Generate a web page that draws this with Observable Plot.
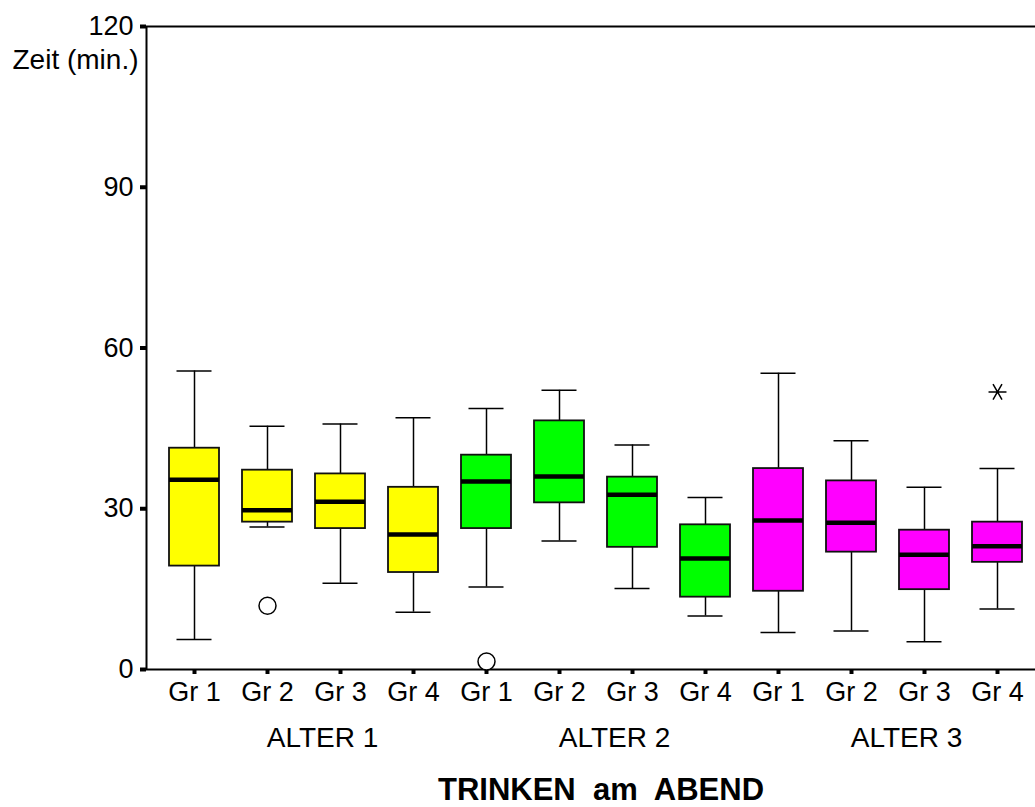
<!DOCTYPE html>
<html>
<head>
<meta charset="utf-8">
<script src="https://cdn.jsdelivr.net/npm/d3@7"></script>
<script src="https://cdn.jsdelivr.net/npm/@observablehq/plot@0.6"></script>
<style>
  html, body { margin: 0; padding: 0; background: white; overflow: hidden; }
  #chart { width: 1035px; height: 807px; overflow: hidden; }
  #chart svg text { white-space: pre; }
</style>
</head>
<body>
<div id="chart"></div>
<script>
// ---- data ----
const ages = ["ALTER 1", "ALTER 2", "ALTER 3"];
const groups = ["Gr 1", "Gr 2", "Gr 3", "Gr 4"];
const ageColors = ["#ffff00", "#00ff00", "#ff00ff"];
// per box, ordered ALTER1 Gr1..Gr4, ALTER2 Gr1..Gr4, ALTER3 Gr1..Gr4
const whiskerLow  = [5.6, 26.6, 16.1, 10.7, 15.4, 24.0, 15.1, 10.0, 6.9, 7.2, 5.2, 11.3];
const quartile1   = [19.3, 27.5, 26.3, 18.1, 26.3, 31.1, 22.8, 13.5, 14.6, 21.9, 14.9, 20.0];
const medians     = [35.4, 29.7, 31.3, 25.2, 35.1, 36.0, 32.6, 20.7, 27.8, 27.4, 21.4, 23.0];
const quartile3   = [41.3, 37.2, 36.5, 34.0, 40.0, 46.4, 35.9, 27.0, 37.5, 35.2, 26.0, 27.5];
const whiskerHigh = [55.7, 45.4, 45.8, 47.0, 48.7, 52.1, 41.9, 32.1, 55.3, 42.7, 34.0, 37.5];
// outliers (circles) and extremes (asterisks): [age index, group index, value]
const outlierAge = [0, 1];
const outlierGroup = [1, 0];
const outlierValue = [11.9, 1.5];
const extremeAge = [2];
const extremeGroup = [3];
const extremeValue = [51.8];
const yTicks = [0, 30, 60, 90, 120];
const yLabel = "Zeit (min.)";
const xTitle = "TRINKEN  am  ABEND";

// ---- build table ----
const key = (a, g) => ages[a] + "|" + groups[g];
const boxes = [];
ages.forEach((a, ai) => groups.forEach((g, gi) => {
  const i = ai * groups.length + gi;
  boxes.push({key: key(ai, gi), age: a, color: ageColors[ai],
    lo: whiskerLow[i], q1: quartile1[i], med: medians[i], q3: quartile3[i], hi: whiskerHigh[i]});
}));
const xDomain = boxes.map(d => d.key);
const outliers = outlierAge.map((a, i) => ({key: key(a, outlierGroup[i]), v: outlierValue[i]}));
const extremes = extremeAge.map((a, i) => ({key: key(a, extremeGroup[i]), v: extremeValue[i]}));
const ageLabels = ages.map((a, ai) => ({key: key(ai, 1), label: a}));

const font = "Liberation Sans, Arial, Helvetica, sans-serif";

const chart = Plot.plot({
  width: 1060,
  height: 807,
  marginLeft: 146,
  marginRight: 15,
  marginTop: 26,
  marginBottom: 138,
  style: {fontFamily: font, color: "black", background: "white", maxWidth: "none", overflow: "visible"},
  x: {type: "band", domain: xDomain, paddingInner: 0.317, paddingOuter: 0.296, axis: null},
  y: {domain: [0, 120], axis: null},
  marks: [
    Plot.frame({stroke: "black", strokeWidth: 2}),
    Plot.axisY({ticks: yTicks, tickSize: 6, tickPadding: 7, fontSize: 27, strokeWidth: 4, stroke: "black", label: null}),
    Plot.axisX({tickSize: 5, tickPadding: 7, fontSize: 27, strokeWidth: 4, stroke: "black",
      tickFormat: d => d.split("|")[1], label: null}),
    Plot.text([yLabel], {frameAnchor: "top-left", dx: -8, dy: 23, textAnchor: "end", lineAnchor: "top", fontSize: 28, fill: "black"}),
    Plot.text(ageLabels, {x: "key", text: "label", frameAnchor: "bottom", dx: 55, dy: 58, lineAnchor: "top", fontSize: 28, fill: "black"}),
    Plot.text([xTitle], {frameAnchor: "bottom", dx: 5, dy: 108, lineAnchor: "top", fontSize: 31, fontWeight: "bold", fill: "black", ariaLabel: "title"}),
    // whiskers
    Plot.ruleX(boxes, {x: "key", y1: "lo", y2: "hi", stroke: "black", strokeWidth: 1.5}),
    Plot.tickY(boxes, {x: "key", y: "hi", insetLeft: 7.5, insetRight: 7.5, stroke: "black", strokeWidth: 1.5}),
    Plot.tickY(boxes, {x: "key", y: "lo", insetLeft: 7.5, insetRight: 7.5, stroke: "black", strokeWidth: 1.5}),
    // boxes
    Plot.barY(boxes, {x: "key", y1: "q1", y2: "q3", fill: "color", stroke: "#111", strokeWidth: 1.8}),
    // medians
    Plot.tickY(boxes, {x: "key", y: "med", stroke: "black", strokeWidth: 4.5}),
    // outliers
    Plot.dot(outliers, {x: "key", y: "v", r: 8.5, stroke: "black", fill: "white", strokeWidth: 1.5}),
    Plot.dot(extremes, {x: "key", y: "v", symbol: "asterisk", r: 8.5, rotate: 90, stroke: "black", strokeWidth: 1.5})
  ]
});
chart.style.maxWidth = "none";
document.getElementById("chart").appendChild(chart);
</script>
</body>
</html>
